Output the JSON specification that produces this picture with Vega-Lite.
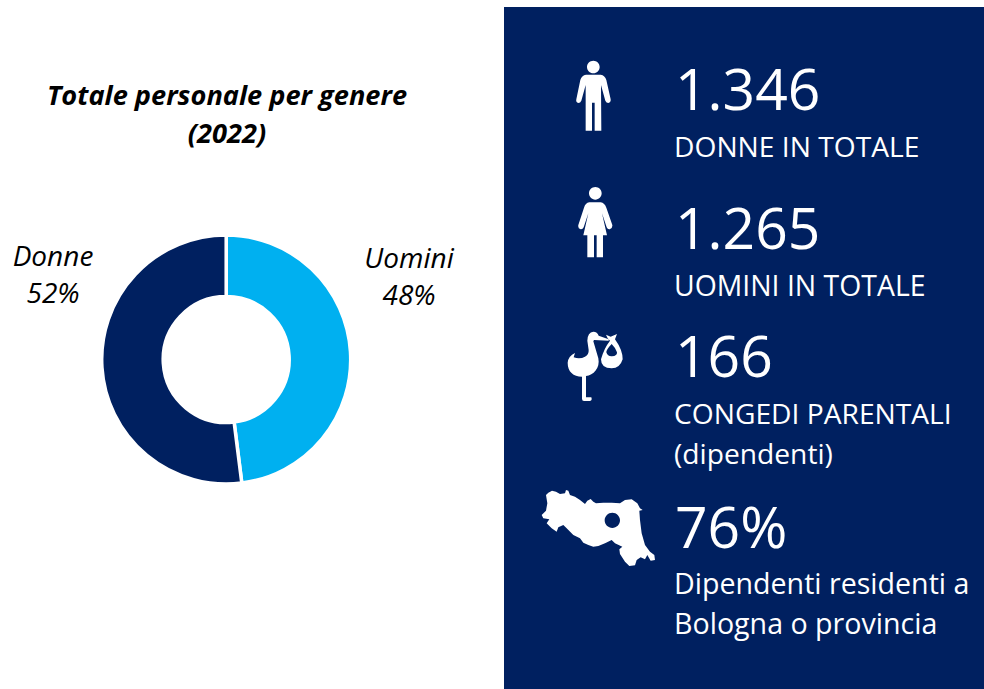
{"$schema":"https://vega.github.io/schema/vega-lite/v6.json","width":984,"height":689,"autosize":"none","padding":0,"background":"white","config":{"view":{"stroke":null},"axis":{"disable":true},"text":{"font":"Open Sans"}},
"datasets":{"genere":[{"genere":"Uomini","percentuale":48,"etichetta":"Uomini\n48%"},{"genere":"Donne","percentuale":52,"etichetta":"Donne\n52%"}],
"kpi":[{"voce":"Donne","valore":"1.346","descrizione":"DONNE IN TOTALE"},{"voce":"Uomini","valore":"1.265","descrizione":"UOMINI IN TOTALE"},{"voce":"Congedi","valore":"166","descrizione":"CONGEDI PARENTALI\n(dipendenti)"},{"voce":"Residenti","valore":"76%","descrizione":"Dipendenti residenti a\nBologna o provincia"}],
"titolo":[{"titolo":"Totale personale per genere\n(2022)"}],"pannello":[{"pannello":"Indicatori"}]},
"layer":[
{"data":{"name":"pannello"},"mark":{"type":"rect","fill":"#002060"},"encoding":{"x":{"datum":504,"type":"quantitative","scale":{"domain":[0,984],"range":[0,984]}},"x2":{"datum":984},"y":{"datum":7,"type":"quantitative","scale":{"domain":[0,689],"range":[0,689]}},"y2":{"datum":689}}},
{"data":{"name":"genere"},"mark":{"type":"arc","radius":124.5,"radius2":63,"stroke":"white","strokeWidth":3.5},"encoding":{"theta":{"field":"percentuale","type":"quantitative","stack":true,"scale":{"domain":[0,100],"range":[0,6.2832]}},"order":{"field":"percentuale","sort":"ascending"},"color":{"field":"genere","type":"nominal","legend":null,"scale":{"domain":["Uomini","Donne"],"range":["#00B0F0","#002060"]}},"x":{"datum":226.2,"type":"quantitative","scale":{"domain":[0,984],"range":[0,984]}},"y":{"datum":359.5,"type":"quantitative","scale":{"domain":[0,689],"range":[0,689]}}}},
{"data":{"name":"titolo"},"mark":{"type":"text","fontSize":27.2,"fontWeight":"bold","fontStyle":"italic","align":"center","baseline":"alphabetic","lineBreak":"\n","lineHeight":38,"color":"black"},"encoding":{"text":{"field":"titolo"},"x":{"datum":227,"type":"quantitative","scale":{"domain":[0,984],"range":[0,984]}},"y":{"datum":105,"type":"quantitative","scale":{"domain":[0,689],"range":[0,689]}}}},
{"data":{"name":"genere"},"transform":[{"filter":"datum.genere==='Donne'"}],"mark":{"type":"text","fontSize":28,"fontStyle":"italic","align":"center","baseline":"alphabetic","lineBreak":"\n","lineHeight":37,"color":"black"},"encoding":{"text":{"field":"etichetta"},"x":{"datum":53,"type":"quantitative","scale":{"domain":[0,984],"range":[0,984]}},"y":{"datum":266,"type":"quantitative","scale":{"domain":[0,689],"range":[0,689]}}}},
{"data":{"name":"genere"},"transform":[{"filter":"datum.genere==='Uomini'"}],"mark":{"type":"text","fontSize":28,"fontStyle":"italic","align":"center","baseline":"alphabetic","lineBreak":"\n","lineHeight":37,"color":"black"},"encoding":{"text":{"field":"etichetta"},"x":{"datum":409,"type":"quantitative","scale":{"domain":[0,984],"range":[0,984]}},"y":{"datum":268,"type":"quantitative","scale":{"domain":[0,689],"range":[0,689]}}}},
{"data":{"name":"kpi"},"transform":[{"filter":"datum.voce==='Donne'"}],"mark":{"type":"text","fontSize":57,"align":"left","baseline":"alphabetic","color":"white"},"encoding":{"text":{"field":"valore"},"x":{"datum":675,"type":"quantitative","scale":{"domain":[0,984],"range":[0,984]}},"y":{"datum":110,"type":"quantitative","scale":{"domain":[0,689],"range":[0,689]}}}},
{"data":{"name":"kpi"},"transform":[{"filter":"datum.voce==='Uomini'"}],"mark":{"type":"text","fontSize":57,"align":"left","baseline":"alphabetic","color":"white"},"encoding":{"text":{"field":"valore"},"x":{"datum":675,"type":"quantitative","scale":{"domain":[0,984],"range":[0,984]}},"y":{"datum":249,"type":"quantitative","scale":{"domain":[0,689],"range":[0,689]}}}},
{"data":{"name":"kpi"},"transform":[{"filter":"datum.voce==='Congedi'"}],"mark":{"type":"text","fontSize":57,"align":"left","baseline":"alphabetic","color":"white"},"encoding":{"text":{"field":"valore"},"x":{"datum":675,"type":"quantitative","scale":{"domain":[0,984],"range":[0,984]}},"y":{"datum":377,"type":"quantitative","scale":{"domain":[0,689],"range":[0,689]}}}},
{"data":{"name":"kpi"},"transform":[{"filter":"datum.voce==='Residenti'"}],"mark":{"type":"text","fontSize":57,"align":"left","baseline":"alphabetic","color":"white"},"encoding":{"text":{"field":"valore"},"x":{"datum":675,"type":"quantitative","scale":{"domain":[0,984],"range":[0,984]}},"y":{"datum":548,"type":"quantitative","scale":{"domain":[0,689],"range":[0,689]}}}},
{"data":{"name":"kpi"},"transform":[{"filter":"datum.voce==='Donne'"}],"mark":{"type":"text","fontSize":28.2,"align":"left","baseline":"alphabetic","color":"white"},"encoding":{"text":{"field":"descrizione"},"x":{"datum":674,"type":"quantitative","scale":{"domain":[0,984],"range":[0,984]}},"y":{"datum":157,"type":"quantitative","scale":{"domain":[0,689],"range":[0,689]}}}},
{"data":{"name":"kpi"},"transform":[{"filter":"datum.voce==='Uomini'"}],"mark":{"type":"text","fontSize":28.4,"align":"left","baseline":"alphabetic","color":"white"},"encoding":{"text":{"field":"descrizione"},"x":{"datum":674,"type":"quantitative","scale":{"domain":[0,984],"range":[0,984]}},"y":{"datum":296,"type":"quantitative","scale":{"domain":[0,689],"range":[0,689]}}}},
{"data":{"name":"kpi"},"transform":[{"filter":"datum.voce==='Congedi'"}],"mark":{"type":"text","fontSize":28.2,"align":"left","baseline":"alphabetic","lineBreak":"\n","lineHeight":40,"color":"white"},"encoding":{"text":{"field":"descrizione"},"x":{"datum":674,"type":"quantitative","scale":{"domain":[0,984],"range":[0,984]}},"y":{"datum":424,"type":"quantitative","scale":{"domain":[0,689],"range":[0,689]}}}},
{"data":{"name":"kpi"},"transform":[{"filter":"datum.voce==='Residenti'"}],"mark":{"type":"text","fontSize":28.6,"align":"left","baseline":"alphabetic","lineBreak":"\n","lineHeight":40,"color":"white"},"encoding":{"text":{"field":"descrizione"},"x":{"datum":674,"type":"quantitative","scale":{"domain":[0,984],"range":[0,984]}},"y":{"datum":594,"type":"quantitative","scale":{"domain":[0,689],"range":[0,689]}}}},
{"data":{"name":"kpi"},"transform":[{"filter":"datum.voce==='Donne'"}],"mark":{"type":"point","filled":true,"fill":"white","opacity":1,"size":0.4444,"shape":"M171 81A19 19 0 1 1 209 81A19 19 0 1 1 171 81ZM168 104L212 104Q225 106 229 120L242 178Q243 188 235 189Q229 189 226 182L213 135L214 272L194 272L194 188L186 188L186 272L167 272L167 135L154 182Q151 189 145 189Q137 188 139 178L151 120Q155 106 168 104Z"},"encoding":{"x":{"datum":530,"type":"quantitative","scale":{"domain":[0,984],"range":[0,984]}},"y":{"datum":40,"type":"quantitative","scale":{"domain":[0,689],"range":[0,689]}}}},
{"data":{"name":"kpi"},"transform":[{"filter":"datum.voce==='Uomini'"}],"mark":{"type":"point","filled":true,"fill":"white","opacity":1,"size":0.4444,"shape":"M177 460A19 19 0 1 1 215 460A19 19 0 1 1 177 460ZM178 487L212 487Q224 489 229 503L247 555Q248 565 239 568Q233 569 230 562L216 520L231 586L219 586L219 652L200 652L200 586L192 586L192 652L172 652L172 586L160 586L175 520L161 562Q158 569 152 568Q143 565 145 555L162 503Q166 489 178 487Z"},"encoding":{"x":{"datum":530,"type":"quantitative","scale":{"domain":[0,984],"range":[0,984]}},"y":{"datum":40,"type":"quantitative","scale":{"domain":[0,689],"range":[0,689]}}}},
{"data":{"name":"kpi"},"transform":[{"filter":"datum.voce==='Congedi'"}],"mark":{"type":"point","filled":true,"fill":"white","opacity":1,"size":0.4444,"shape":"M113 128Q115 108 135 99L131 112Q150 118 165 110Q177 104 176 90L172 62Q173 36 190 35Q202 35 206 47L236 58L236 62L192 60L190 64L205 115C211 145 190 166 168 168L168 232L184 232Q188 243 178 243L162 243Q156 243 156 236L156 170C130 170 113 155 113 128ZM228 44L242 50L261 42L255 58Q278 90 278 118Q270 145 245 145Q213 145 213 118Q222 85 240 62L233 55ZM245 72Q228 90 229 97Q233 110 246 109Q262 108 261 97Q258 85 245 72Z"},"encoding":{"x":{"datum":530,"type":"quantitative","scale":{"domain":[0,984],"range":[0,984]}},"y":{"datum":320,"type":"quantitative","scale":{"domain":[0,689],"range":[0,689]}}}},
{"data":{"name":"kpi"},"transform":[{"filter":"datum.voce==='Residenti'"}],"mark":{"type":"point","filled":true,"fill":"white","opacity":1,"size":0.4444,"shape":"M48 45L55 38L66 32L78 35L90 42L105 40L108 30L115 32L120 45L135 50L150 60L165 72L172 62L182 57L190 65L198 70L220 68L245 68L270 70L285 60L305 58L322 70L330 85L338 90L328 92L330 120L335 160L345 195L360 215L373 225L375 240L362 242L352 225L345 238L332 232L320 240L315 256L298 258L285 245L270 222L268 208L277 200L255 190L245 180L225 190L205 198L190 200L175 195L160 188L150 175L130 165L110 145L100 135L85 142L80 155L65 145L50 130L58 118L40 115L35 105L48 92L52 70ZM224 121A23 23 0 0 0 270 121A23 23 0 0 0 224 121Z"},"encoding":{"x":{"datum":530,"type":"quantitative","scale":{"domain":[0,984],"range":[0,984]}},"y":{"datum":480,"type":"quantitative","scale":{"domain":[0,689],"range":[0,689]}}}}
]}
